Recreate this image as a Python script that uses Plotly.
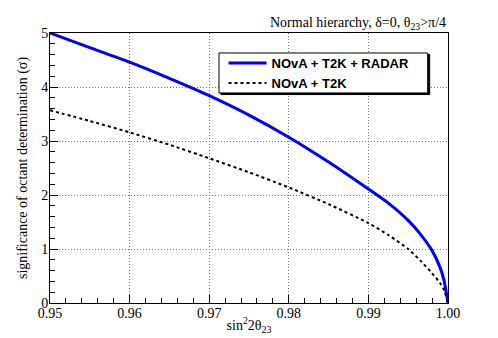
import plotly.graph_objects as go

# sin^2(2 theta23) points and significance
x_radar = [0.950, 0.955, 0.960, 0.965, 0.970, 0.975, 0.980, 0.985, 0.990,
           0.9925, 0.995, 0.9965, 0.998, 0.999, 0.9995, 1.000]
sig_radar = [5.00, 4.73, 4.46, 4.16, 3.84, 3.48, 3.07, 2.61, 2.11,
             1.85, 1.53, 1.28, 0.97, 0.66, 0.42, 0.00]

x_nt = [0.950, 0.955, 0.960, 0.965, 0.970, 0.975, 0.980, 0.985, 0.990,
        0.9925, 0.995, 0.9965, 0.998, 0.999, 0.9995, 1.000]
sig_nt = [3.57, 3.37, 3.16, 2.93, 2.68, 2.42, 2.14, 1.83, 1.48,
          1.26, 1.00, 0.79, 0.55, 0.37, 0.24, 0.00]

names = ['NOvA + T2K + RADAR', 'NOvA + T2K']
title_text = 'Normal hierarchy, δ=0, θ<sub>23</sub>>π/4'
xticks = [0.95, 0.96, 0.97, 0.98, 0.99, 1.00]
xticklabels = ['0.95', '0.96', '0.97', '0.98', '0.99', '1.00']

serif = 'Liberation Serif, Times New Roman, serif'
sans = 'Liberation Sans, Arial, sans-serif'

fig = go.Figure()
fig.add_trace(go.Scatter(x=x_radar, y=sig_radar, mode='lines', name=names[0],
                         line=dict(color='#0000ff', width=3, shape='spline', smoothing=0.6)))
fig.add_trace(go.Scatter(x=x_nt, y=sig_nt, mode='lines', name=names[1],
                         line=dict(color='black', width=2, dash='dot', shape='spline', smoothing=0.6)))

# page body has an 8px margin, so margins are trimmed by 8 on top/left
fig.update_layout(
    width=498, height=338,
    margin=dict(l=42, r=58, t=25, b=43),
    paper_bgcolor='white', plot_bgcolor='white',
    font=dict(family=serif, size=14, color='black'),
    showlegend=True,
    legend=dict(x=0.436, y=0.944, xanchor='left', yanchor='top',
                bgcolor='rgba(0,0,0,0)', borderwidth=0,
                font=dict(family=sans, size=13, color='black', weight='bold'),
                itemwidth=38, tracegroupgap=0),
)

# legend frame (ROOT style box with a small shadow)
fig.add_shape(type='rect', xref='paper', yref='paper', layer='above',
              x0=0.4246 + 0.005, x1=0.949 + 0.005, y0=0.778 - 0.006, y1=0.926 - 0.006,
              line=dict(color='black', width=1), fillcolor='black')
fig.add_shape(type='rect', xref='paper', yref='paper', layer='above',
              x0=0.4246, x1=0.949, y0=0.778, y1=0.926,
              line=dict(color='black', width=1), fillcolor='white')

grid_dash = '1px,2px'
fig.update_xaxes(
    range=[0.95, 1.0], tickvals=xticks, ticktext=xticklabels,
    ticks='inside', ticklen=8, tickcolor='black', automargin=False,
    ticklabelstandoff=-3,
    minor=dict(ticks='inside', dtick=0.002, ticklen=5, tickcolor='black', showgrid=False),
    showline=True, linecolor='black', linewidth=1, mirror=True,
    showgrid=True, gridcolor='#777', griddash=grid_dash, gridwidth=1, zeroline=False,
    title=dict(text='sin<sup>2</sup>2θ<sub>23</sub>', standoff=0,
               font=dict(family=serif, size=14)),
)
fig.update_yaxes(
    range=[0, 5], dtick=1, automargin=False,
    ticks='inside', ticklen=8, tickcolor='black', ticklabelstandoff=-2,
    minor=dict(ticks='inside', dtick=0.2, ticklen=5, tickcolor='black', showgrid=False),
    showline=True, linecolor='black', linewidth=1, mirror=True,
    showgrid=True, gridcolor='#777', griddash=grid_dash, gridwidth=1, zeroline=False,
    title=dict(text='significance of octant determination (σ)', standoff=10,
               font=dict(family=serif, size=14)),
)

fig.add_annotation(text=title_text, xref='paper', yref='paper', x=1.0, y=1.0,
                   xanchor='right', yanchor='bottom', showarrow=False, yshift=-1,
                   font=dict(family=serif, size=14, color='black'))

fig.write_html("out.html")
